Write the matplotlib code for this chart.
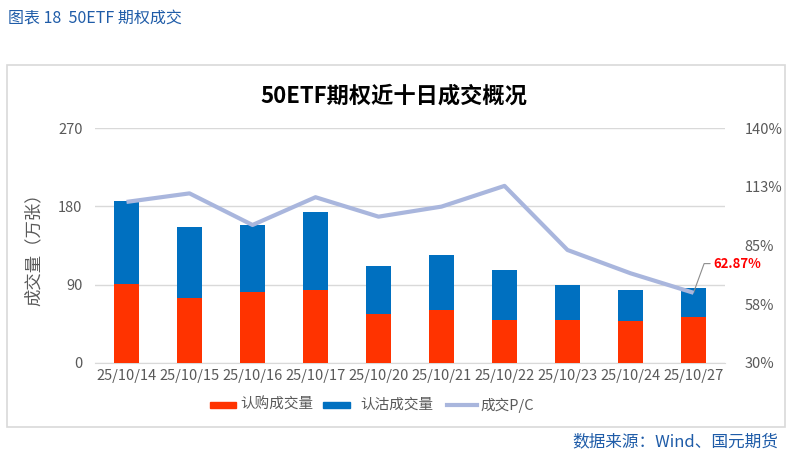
import matplotlib
matplotlib.use("Agg")
import matplotlib.pyplot as plt
from matplotlib.patches import Rectangle
from matplotlib.lines import Line2D
from matplotlib.ticker import FixedLocator

plt.rcParams['font.family'] = ['Noto Sans CJK SC', 'DejaVu Sans']

dates = ["25/10/14", "25/10/15", "25/10/16", "25/10/17", "25/10/20",
         "25/10/21", "25/10/22", "25/10/23", "25/10/24", "25/10/27"]
call_vol = [90.8, 75.0, 81.9, 84.2, 56.7, 60.9, 49.4, 49.4, 48.3, 52.9]
put_vol = [95.3, 81.3, 76.6, 89.3, 54.7, 63.2, 57.4, 40.2, 35.6, 33.3]
pc_ratio = [105.4, 109.4, 94.6, 107.6, 98.5, 103.2, 112.9, 82.9, 72.0, 62.87]
left_ticks = [0, 90, 180, 270]
right_ticks = [30, 57.5, 85, 112.5, 140]
right_labels = ["30%", "58%", "85%", "113%", "140%"]
legend_labels = ["认购成交量", "认沽成交量", "成交P/C"]

RED = "#FF3300"
BLUE = "#0070C0"
LINE = "#A9B6DD"
GRID = "#D9D9D9"
TXT = "#595959"
CAP = "#1F5CA8"

W, H = 788, 457
fig = plt.figure(figsize=(7.88, 4.57), dpi=100)
fig.patch.set_facecolor("white")

def fx(px):
    return px / W

def fy(py):
    return 1 - py / H

# outer border
fig.patches.append(Rectangle((fx(7), fy(427)), 778/W, 362/H,
                             transform=fig.transFigure, fill=False,
                             edgecolor=GRID, linewidth=1.2))

ax = fig.add_axes([fx(95), fy(363), 630/W, 235/H])
x = list(range(len(dates)))
ax.bar(x, call_vol, width=0.4, color=RED, zorder=3)
ax.bar(x, put_vol, width=0.4, bottom=call_vol, color=BLUE, zorder=3)
ax.set_xlim(-0.5, len(dates) - 0.5)
ax.set_ylim(0, 270)
ax.yaxis.set_major_locator(FixedLocator(left_ticks))
ax.set_yticklabels([str(t) for t in left_ticks])
ax.grid(axis="y", color=GRID, linewidth=1, zorder=0)
for s in ["top", "right", "left"]:
    ax.spines[s].set_visible(False)
ax.spines["bottom"].set_color(GRID)
ax.set_xticks(x)
ax.set_xticklabels(dates)
ax.tick_params(axis="both", length=0, colors=TXT, labelsize=10.5)
ax.tick_params(axis="y", pad=9)
ax.tick_params(axis="x", pad=4)
ax.set_ylabel("成交量（万张）", color=TXT, fontsize=12.5, labelpad=11)

ax2 = ax.twinx()
ax2.plot(x, pc_ratio, color=LINE, linewidth=3, zorder=4, solid_capstyle="butt")
ax2.set_ylim(30, 140)
ax2.yaxis.set_major_locator(FixedLocator(right_ticks))
ax2.set_yticklabels(right_labels)
ax2.tick_params(axis="y", length=0, colors=TXT, labelsize=10.5, pad=14)
for s in ["top", "right", "left", "bottom"]:
    ax2.spines[s].set_visible(False)

# annotation for last point
ax2.annotate(f"{pc_ratio[-1]:.2f}%", xy=(x[-1], pc_ratio[-1]),
             xytext=(14, 21), textcoords="offset points",
             color="#FF0000", fontweight="bold", fontsize=9.5,
             va="center", ha="left",
             arrowprops=dict(arrowstyle="-", color="#8C8C8C", lw=0.8,
                             connectionstyle="angle,angleA=0,angleB=70,rad=0",
                             shrinkA=0, shrinkB=0))

fig.text(fx(394), fy(96), "50ETF期权近十日成交概况", ha="center", va="center",
         fontsize=16, fontweight="bold", color="black")
fig.text(fx(8), fy(18), "图表 18  50ETF 期权成交", ha="left", va="center",
         fontsize=11.5, color=CAP)
fig.text(fx(778), fy(442), "数据来源：Wind、国元期货", ha="right", va="center",
         fontsize=12, color=CAP)

# manual legend
ly = 405
fig.patches.append(Rectangle((fx(210), fy(ly + 3)), 26/W, 6/H,
                             transform=fig.transFigure, color=RED))
fig.patches.append(Rectangle((fx(323), fy(ly + 3)), 27/W, 6/H,
                             transform=fig.transFigure, color=BLUE))
fig.lines.append(Line2D([fx(447), fx(477)], [fy(ly), fy(ly)],
                        transform=fig.transFigure, color=LINE, linewidth=3))
for px, lab in zip([240, 360, 480], legend_labels):
    fig.text(fx(px), fy(ly), lab, ha="left", va="center", fontsize=10.5, color=TXT)

fig.savefig("out.png", dpi=100, facecolor="white")
